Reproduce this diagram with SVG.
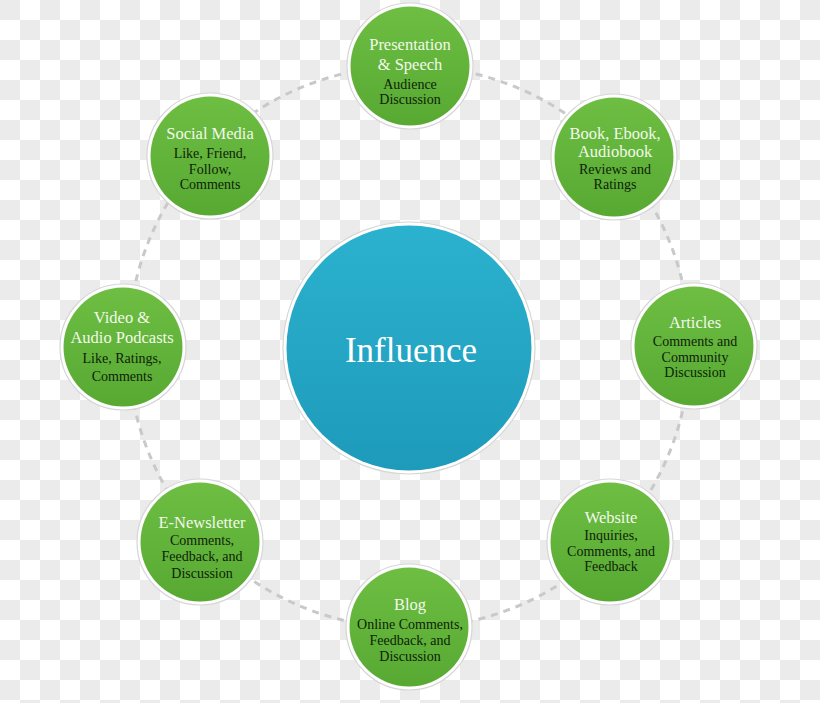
<svg xmlns="http://www.w3.org/2000/svg" width="820" height="703" viewBox="0 0 820 703">
<defs>
<pattern id="checker" x="0" y="0" width="40" height="40" patternUnits="userSpaceOnUse">
<rect width="40" height="40" fill="#ffffff"/>
<rect x="0" y="0" width="20" height="20" fill="#ebebeb"/>
<rect x="20" y="20" width="20" height="20" fill="#ebebeb"/>
</pattern>
<linearGradient id="green" x1="0" y1="0" x2="0" y2="1">
<stop offset="0" stop-color="#6ebe43"/>
<stop offset="1" stop-color="#57a932"/>
</linearGradient>
<linearGradient id="blue" x1="0" y1="0" x2="0" y2="1">
<stop offset="0" stop-color="#2bb2ce"/>
<stop offset="1" stop-color="#1e9aba"/>
</linearGradient>
</defs>
<style>
.ring{fill:none;stroke:#c9c9c9;stroke-width:3;stroke-dasharray:7 6;}
.halo{fill:#ffffff;stroke:#d6d6d6;stroke-width:1.2;}
.g{fill:url(#green);}
.t{font-family:"Liberation Serif","DejaVu Serif",serif;font-size:16.5px;fill:#f2f9ea;text-anchor:middle;}
.s{font-family:"Liberation Serif","DejaVu Serif",serif;font-size:14px;fill:#0e2308;text-anchor:middle;}
.big{font-family:"Liberation Serif","DejaVu Serif",serif;font-size:35px;fill:#ffffff;text-anchor:middle;}
</style>
<rect width="820" height="703" fill="url(#checker)"/>
<g id="connectors">
<circle class="ring" cx="409" cy="347" r="281"/>
</g>
<g id="influence">
<circle class="halo" cx="409" cy="348" r="126"/>
<circle cx="409" cy="348" r="122.5" fill="url(#blue)"/>
<text class="big" x="411" y="362">Influence</text>
</g>
<g id="presentation">
<circle class="halo" cx="410" cy="66" r="63"/>
<circle class="g" cx="410" cy="66" r="59.5"/>
<text class="t" x="410" y="50">Presentation</text>
<text class="t" x="410" y="70">&amp; Speech</text>
<text class="s" x="410" y="89">Audience</text>
<text class="s" x="410" y="104">Discussion</text>
</g>
<g id="book">
<circle class="halo" cx="614" cy="157" r="63"/>
<circle class="g" cx="614" cy="157" r="59.5"/>
<text class="t" x="615" y="139">Book, Ebook,</text>
<text class="t" x="615" y="157">Audiobook</text>
<text class="s" x="615" y="174">Reviews and</text>
<text class="s" x="615" y="189">Ratings</text>
</g>
<g id="articles">
<circle class="halo" cx="694" cy="346" r="63"/>
<circle class="g" cx="694" cy="346" r="59.5"/>
<text class="t" x="695" y="328">Articles</text>
<text class="s" x="695" y="346">Comments and</text>
<text class="s" x="695" y="362">Community</text>
<text class="s" x="695" y="377">Discussion</text>
</g>
<g id="website">
<circle class="halo" cx="610" cy="542" r="63"/>
<circle class="g" cx="610" cy="542" r="59.5"/>
<text class="t" x="611" y="523">Website</text>
<text class="s" x="611" y="540">Inquiries,</text>
<text class="s" x="611" y="556">Comments, and</text>
<text class="s" x="611" y="571">Feedback</text>
</g>
<g id="blog">
<circle class="halo" cx="409" cy="627" r="63"/>
<circle class="g" cx="409" cy="627" r="59.5"/>
<text class="t" x="410" y="610">Blog</text>
<text class="s" x="410" y="629">Online Comments,</text>
<text class="s" x="410" y="645">Feedback, and</text>
<text class="s" x="410" y="661">Discussion</text>
</g>
<g id="enewsletter">
<circle class="halo" cx="200" cy="542" r="63"/>
<circle class="g" cx="200" cy="542" r="59.5"/>
<text class="t" x="202" y="528">E-Newsletter</text>
<text class="s" x="202" y="545">Comments,</text>
<text class="s" x="202" y="561">Feedback, and</text>
<text class="s" x="202" y="578">Discussion</text>
</g>
<g id="video">
<circle class="halo" cx="123" cy="347" r="63"/>
<circle class="g" cx="123" cy="347" r="59.5"/>
<text class="t" x="122" y="323">Video &amp;</text>
<text class="t" x="122" y="343">Audio Podcasts</text>
<text class="s" x="122" y="363">Like, Ratings,</text>
<text class="s" x="122" y="381">Comments</text>
</g>
<g id="social">
<circle class="halo" cx="210" cy="156" r="63"/>
<circle class="g" cx="210" cy="156" r="59.5"/>
<text class="t" x="210" y="139">Social Media</text>
<text class="s" x="210" y="158">Like, Friend,</text>
<text class="s" x="210" y="174">Follow,</text>
<text class="s" x="210" y="189">Comments</text>
</g>
</svg>
